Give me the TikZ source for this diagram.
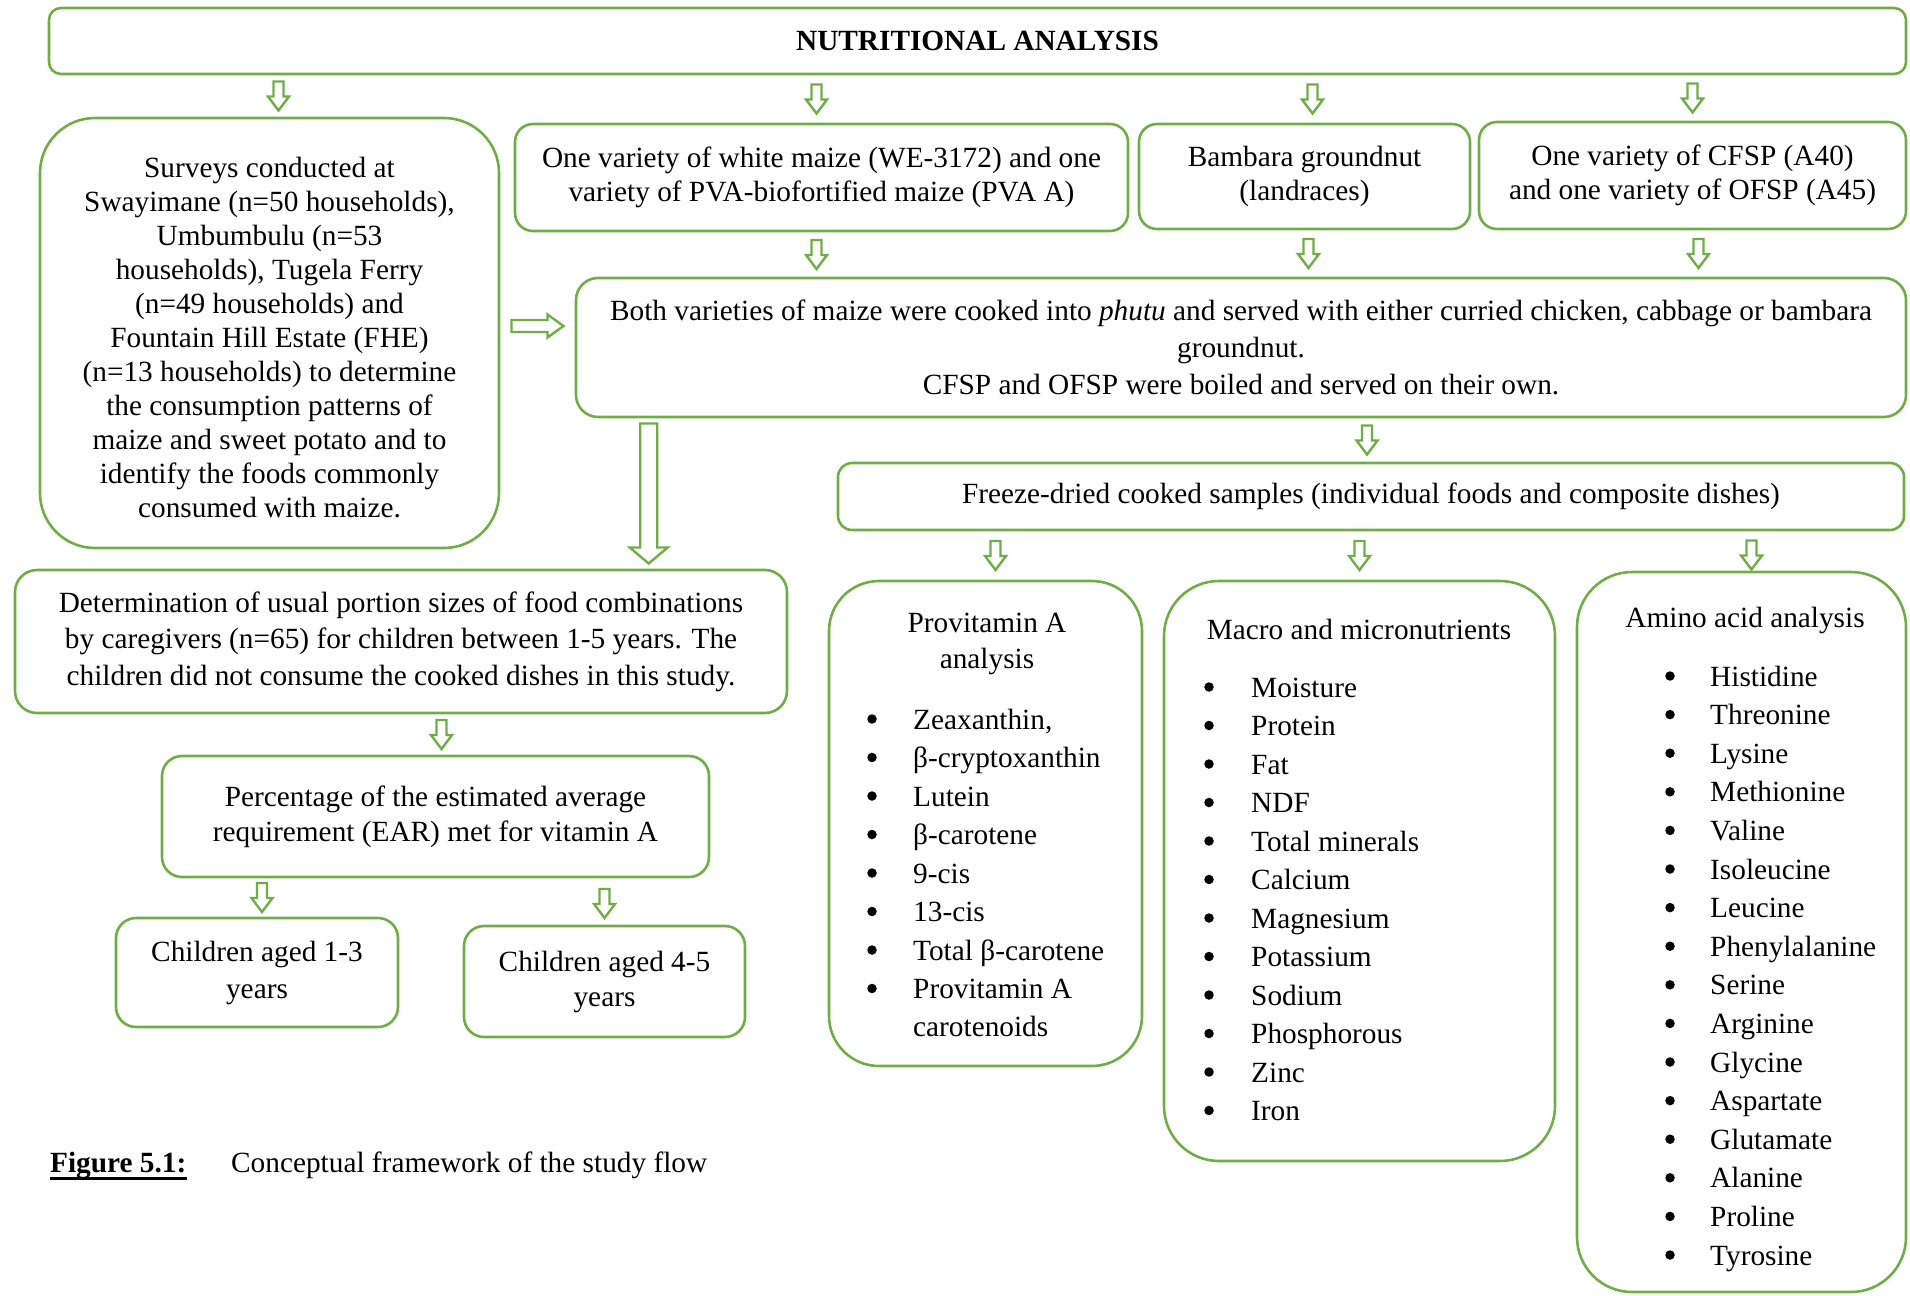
\documentclass[tikz,border=0pt]{standalone}
\usepackage{fontspec}
\setmainfont{Liberation Serif}
\usetikzlibrary{calc}
\definecolor{boxgreen}{RGB}{112,173,71}
\newcommand\diagfont{\fontsize{29.3}{34}\selectfont}
\begin{document}
\begin{tikzpicture}[x=1pt,y=-1pt,
  box/.style={draw=boxgreen, line width=2.6pt, rounded corners=#1, align=center,
              inner sep=0pt, font=\diagfont},
  box/.default=18pt,
  plain/.style={inner sep=0pt, font=\diagfont},
  item/.style={plain, anchor=base west},
  dot/.style={circle, fill=black, inner sep=0pt, minimum size=9.5pt},
  hollow/.style={draw=boxgreen, line width=2.4pt, fill=white, line join=miter},
  % hollow block arrow pointing down: length, half shaft, half head, head length
  downblk/.style n args={4}{hollow, to path={
    let \p1=($(\tikztostart)!0.5!(\tikztotarget)$) in
    (\x1-#2,\y1+#1/2) -- (\x1-#2,\y1-#1/2+#4) -- (\x1-#3,\y1-#1/2+#4) --
    (\x1,\y1-#1/2) -- (\x1+#3,\y1-#1/2+#4) -- (\x1+#2,\y1-#1/2+#4) --
    (\x1+#2,\y1+#1/2) -- cycle}},
  % hollow block arrow pointing right
  rightblk/.style n args={4}{hollow, to path={
    let \p1=($(\tikztostart)!0.5!(\tikztotarget)$) in
    (\x1-#1/2,\y1+#2) -- (\x1+#1/2-#4,\y1+#2) -- (\x1+#1/2-#4,\y1+#3) --
    (\x1+#1/2,\y1) -- (\x1+#1/2-#4,\y1-#3) -- (\x1+#1/2-#4,\y1-#2) --
    (\x1-#1/2,\y1-#2) -- cycle}},
  smalldown/.style={downblk={29pt}{5pt}{10.5pt}{14pt}},
]
\useasboundingbox (0,0) rectangle (1910,1295);

% ---- boxes ----
\node[box=12pt, minimum width=1857pt, minimum height=66pt] (top) at (977.5,41)
  {\textbf{NUTRITIONAL ANALYSIS}};

\node[box=55pt, minimum width=459pt, minimum height=430pt] (surv) at (269.5,333)
  {\mbox{}\\[-4pt]Surveys conducted at\\ Swayimane (n=50 households),\\ Umbumbulu (n=53\\
   households), Tugela Ferry\\ (n=49 households) and\\ Fountain Hill Estate (FHE)\\
   (n=13 households) to determine\\ the consumption patterns of\\
   maize and sweet potato and to\\ identify the foods commonly\\ consumed with maize.};

\node[box, minimum width=613pt, minimum height=107pt] (maize) at (821.5,177.5)
  {One variety of white maize (WE-3172) and one\\ variety of PVA-biofortified maize (PVA A)};
\node[box, minimum width=331pt, minimum height=105pt] (bamb) at (1304.5,176.5)
  {Bambara groundnut\\ (landraces)};
\node[box, minimum width=427pt, minimum height=107pt] (cfsp) at (1692.5,175.5)
  {One variety of CFSP (A40)\\ and one variety of OFSP (A45)};

\node[box=22pt, minimum width=1330pt, minimum height=139pt, font={\fontsize{29.3}{37}\selectfont}]
  (both) at (1241,347.5)
  {Both varieties of maize were cooked into \textit{phutu} and served with either curried chicken, cabbage or bambara\\
   groundnut.\\ CFSP and OFSP were boiled and served on their own.};

\node[box=14pt, minimum width=1066pt, minimum height=67pt] (freeze) at (1371,496.5)
  {Freeze-dried cooked samples (individual foods and composite dishes)};

\node[box=50pt, minimum width=313pt, minimum height=485pt] (prov) at (985.5,823.5) {};
\node[box=55pt, minimum width=391pt, minimum height=580pt] (macro) at (1359.5,871) {};
\node[box=55pt, minimum width=329pt, minimum height=720pt] (amino) at (1741.5,932) {};

\node[box=22pt, minimum width=772pt, minimum height=143pt, font={\fontsize{29.3}{36.5}\selectfont}]
  (det) at (401,641.5)
  {Determination of usual portion sizes of food combinations\\
   by caregivers (n=65) for children between 1-5 years. The\\
   children did not consume the cooked dishes in this study.};

\node[box=20pt, minimum width=547pt, minimum height=121pt, font={\fontsize{29.3}{35}\selectfont}]
  (perc) at (435.5,816.5)
  {Percentage of the estimated average\\ requirement (EAR) met for vitamin A};

\node[box=20pt, minimum width=282pt, minimum height=109pt, font={\fontsize{29.3}{37}\selectfont}]
  (c13) at (257,972.5) {Children aged 1-3\\ years};
\node[box=20pt, minimum width=281pt, minimum height=111pt, font={\fontsize{29.3}{35}\selectfont}]
  (c45) at (604.5,981.5) {Children aged 4-5\\ years};

% ---- list contents ----
\node[plain, align=center, font={\fontsize{29.3}{36}\selectfont}] (provtitle) at (987,644)
  {Provitamin A\\ analysis};
\foreach \t [count=\i from 0] in {{Zeaxanthin,},β-cryptoxanthin,Lutein,β-carotene,9-cis,13-cis,Total β-carotene,Provitamin A}{
  \node[dot] (provb\i) at (872,719+38.5*\i) {};
  \node[item] (provi\i) at (913,729+38.5*\i) {\t};
}
\node[item] (provcont) at (913,1036) {carotenoids};

\node[plain] (macrotitle) at (1359,629) {Macro and micronutrients};
\foreach \t [count=\i from 0] in {Moisture,Protein,Fat,NDF,Total minerals,Calcium,Magnesium,Potassium,Sodium,Phosphorous,Zinc,Iron}{
  \node[dot] (macrob\i) at (1209,687+38.5*\i) {};
  \node[item] (macroi\i) at (1251,697+38.5*\i) {\t};
}

\node[plain] (aminotitle) at (1745,620) {Amino acid analysis};
\foreach \t [count=\i from 0] in {Histidine,Threonine,Lysine,Methionine,Valine,Isoleucine,Leucine,Phenylalanine,Serine,Arginine,Glycine,Aspartate,Glutamate,Alanine,Proline,Tyrosine}{
  \node[dot] (aminob\i) at (1670,676+38.6*\i) {};
  \node[item] (aminoi\i) at (1710,686+38.6*\i) {\t};
}

% ---- caption ----
\node[item] (figlabel) at (50,1172) {\textbf{Figure 5.1:}};
\draw[line width=2.8pt] ([yshift=-6.5pt]figlabel.base west) -- ([yshift=-6.5pt]figlabel.base east);
\node[item] (figtext) at (231,1172) {Conceptual framework of the study flow};

% ---- arrows ----
\draw[smalldown] ([xshift=9pt]top.south -| surv.north) to ([xshift=9pt]surv.north);
\draw[smalldown] ([xshift=-5pt]top.south -| maize.north) to ([xshift=-5pt]maize.north);
\draw[smalldown] ([xshift=8pt]top.south -| bamb.north) to ([xshift=8pt]bamb.north);
\draw[smalldown] (top.south -| cfsp.north) to (cfsp.north);

\draw[smalldown] ([xshift=-5pt]maize.south) to ([xshift=-5pt]maize.south |- both.north);
\draw[smalldown] ([xshift=4pt]bamb.south) to ([xshift=4pt]bamb.south |- both.north);
\draw[smalldown] ([xshift=6pt]cfsp.south) to ([xshift=6pt]cfsp.south |- both.north);

\draw[rightblk={52pt}{6pt}{11.5pt}{16pt}] ([yshift=7pt]surv.east) to ([yshift=7pt]surv.east -| both.west);

\draw[downblk={140pt}{8.5pt}{19pt}{16pt}] ([xshift=74pt]both.south west) to ([xshift=74pt]both.south west |- det.north);

\draw[smalldown] ([xshift=-4pt]both.south -| freeze.north) to ([xshift=-4pt]freeze.north);

\draw[smalldown] ([xshift=10pt]freeze.south -| prov.north) to ([xshift=10pt]prov.north);
\draw[smalldown] (freeze.south -| macro.north) to (macro.north);
\draw[smalldown] ([xshift=10pt]freeze.south -| amino.north) to ([xshift=10pt,yshift=-8pt]amino.north);

\draw[smalldown] ([xshift=6pt]det.south -| perc.north) to ([xshift=6pt]perc.north);
\draw[smalldown] ([xshift=5pt]perc.south -| c13.north) to ([xshift=5pt]c13.north);
\draw[smalldown] ([yshift=-4pt]perc.south -| c45.north) to (c45.north);
\end{tikzpicture}
\end{document}
